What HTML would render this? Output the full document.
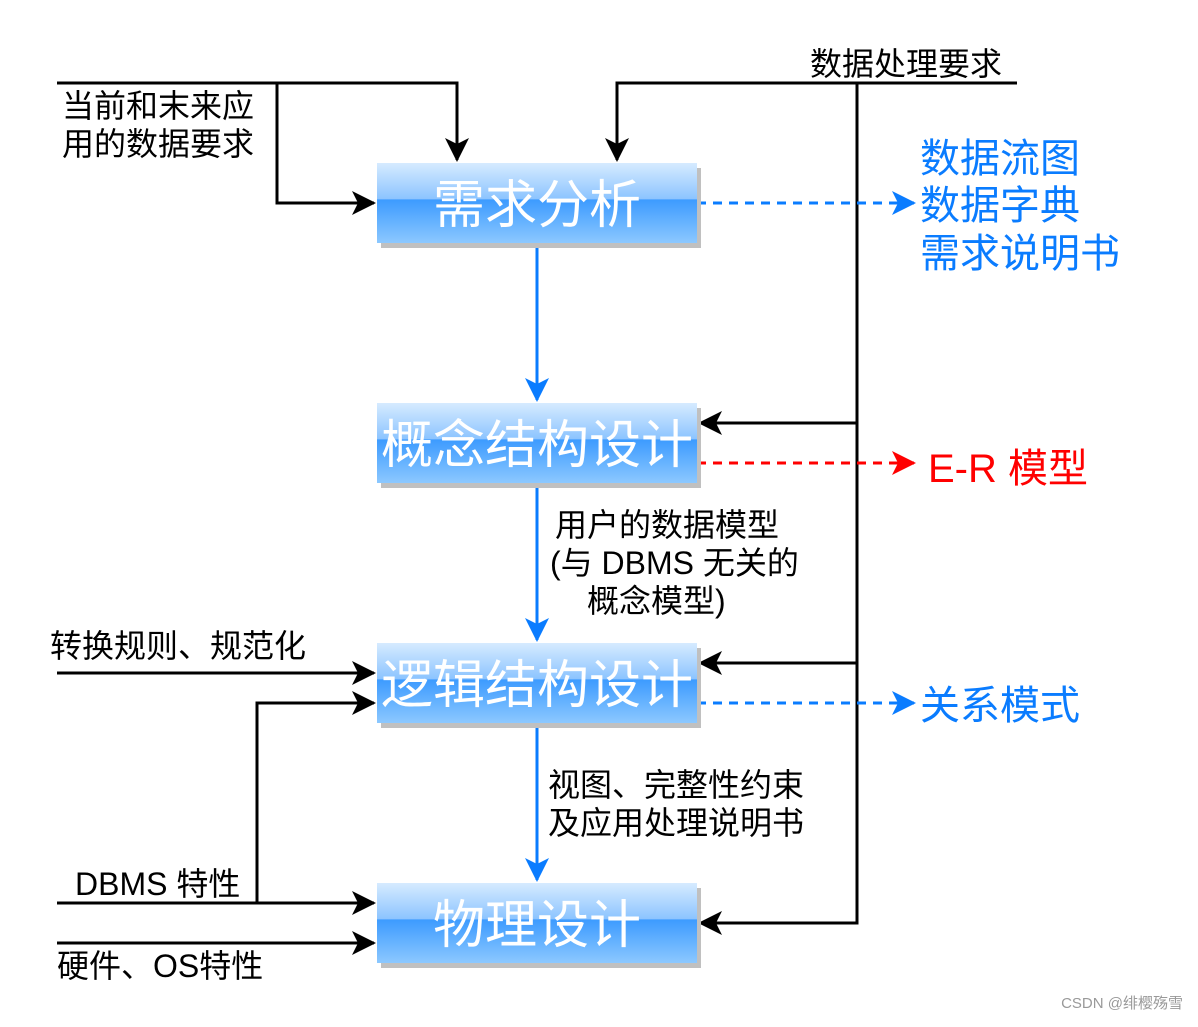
<!DOCTYPE html>
<html><head><meta charset="utf-8"><style>
body{margin:0;background:#fff}
svg text{font-family:"Liberation Sans","Noto Sans CJK SC",sans-serif}
</style></head><body>
<svg width="1198" height="1022" xmlns="http://www.w3.org/2000/svg">
<defs>
<linearGradient id="g" x1="0" y1="0" x2="0" y2="1">
<stop offset="0" stop-color="#d6ebff"/><stop offset="0.45" stop-color="#8cc4ff"/><stop offset="0.46" stop-color="#3d9bff"/><stop offset="1" stop-color="#8cc8ff"/></linearGradient>
<marker id="ak2" markerWidth="24" markerHeight="24" refX="22" refY="12" orient="auto" markerUnits="userSpaceOnUse" viewBox="0 0 24 24"><path d="M0,0 L24,12 L0,24 L6,12 Z" fill="#000"/></marker>
<marker id="ab2" markerWidth="24" markerHeight="24" refX="22" refY="12" orient="auto" markerUnits="userSpaceOnUse" viewBox="0 0 24 24"><path d="M0,0 L24,12 L0,24 L6,12 Z" fill="#0a7cff"/></marker>
<marker id="ar2" markerWidth="24" markerHeight="24" refX="22" refY="12" orient="auto" markerUnits="userSpaceOnUse" viewBox="0 0 24 24"><path d="M0,0 L24,12 L0,24 L6,12 Z" fill="#ff0000"/></marker>
</defs>
<g fill="none" stroke="#000" stroke-width="3">
<path d="M57,83 H457 V160" marker-end="url(#ak2)"/>
<path d="M277,83 V203 H374" marker-end="url(#ak2)"/>
<path d="M1017,83 H617 V160" marker-end="url(#ak2)"/>
<path d="M857,83 V923 H700" marker-end="url(#ak2)"/>
<path d="M857,423 H700" marker-end="url(#ak2)"/>
<path d="M857,663 H700" marker-end="url(#ak2)"/>
<path d="M57,673 H374" marker-end="url(#ak2)"/>
<path d="M257,903 V703 H374" marker-end="url(#ak2)"/>
<path d="M57,903 H374" marker-end="url(#ak2)"/>
<path d="M57,943 H374" marker-end="url(#ak2)"/>
</g>
<g fill="none" stroke-width="3">
<path d="M697,203 H914" stroke="#0a7cff" stroke-dasharray="9,7" marker-end="url(#ab2)"/>
<path d="M697,463 H914" stroke="#ff0000" stroke-dasharray="9,7" marker-end="url(#ar2)"/>
<path d="M697,703 H914" stroke="#0a7cff" stroke-dasharray="9,7" marker-end="url(#ab2)"/>
<path d="M537,243 V400" stroke="#0a7cff" marker-end="url(#ab2)"/>
<path d="M537,483 V640" stroke="#0a7cff" marker-end="url(#ab2)"/>
<path d="M537,723 V880" stroke="#0a7cff" marker-end="url(#ab2)"/>
</g>
<g>
<rect x="381" y="168" width="320" height="80" fill="#c0c0c0"/><rect x="377" y="163" width="320" height="80" fill="url(#g)"/>
<rect x="381" y="408" width="320" height="80" fill="#c0c0c0"/><rect x="377" y="403" width="320" height="80" fill="url(#g)"/>
<rect x="381" y="648" width="320" height="80" fill="#c0c0c0"/><rect x="377" y="643" width="320" height="80" fill="url(#g)"/>
<rect x="381" y="888" width="320" height="80" fill="#c0c0c0"/><rect x="377" y="883" width="320" height="80" fill="url(#g)"/>
</g>
<g fill="#fff" font-size="52" text-anchor="middle">
<text x="537" y="223">需求分析</text>
<text x="537" y="463">概念结构设计</text>
<text x="537" y="703">逻辑结构设计</text>
<text x="537" y="943">物理设计</text>
</g>
<g font-size="32" fill="#000">
<text x="62" y="117">当前和末来应</text>
<text x="62" y="155">用的数据要求</text>
<text x="810" y="75">数据处理要求</text>
<text x="555" y="536">用户的数据模型</text>
<text x="550" y="574">(与 DBMS 无关的</text>
<text x="587" y="612">概念模型)</text>
<text x="50" y="657">转换规则、规范化</text>
<text x="548" y="796">视图、完整性约束</text>
<text x="548" y="834">及应用处理说明书</text>
<text x="75" y="895">DBMS 特性</text>
<text x="57" y="977">硬件、OS特性</text>
</g>
<g font-size="40" fill="#0a7cff">
<text x="920" y="172">数据流图</text>
<text x="920" y="219">数据字典</text>
<text x="920" y="267">需求说明书</text>
<text x="920" y="719">关系模式</text>
</g>
<text x="928" y="482" font-size="40" fill="#ff0000">E-R 模型</text>
<text x="1183" y="1008" font-size="15" fill="#999" text-anchor="end">CSDN @绯樱殇雪</text>
</svg>
</body></html>
